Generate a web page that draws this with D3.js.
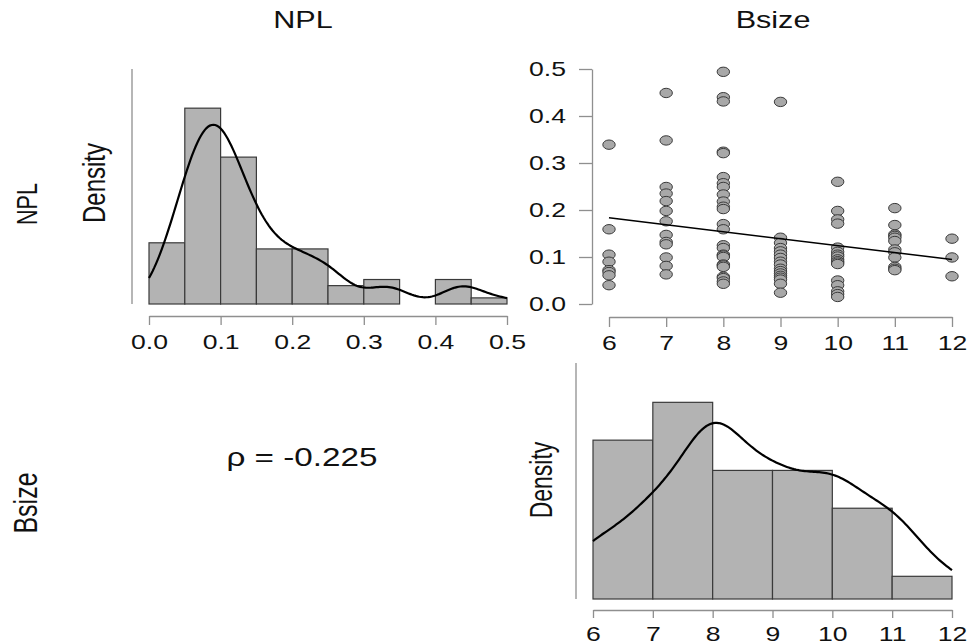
<!DOCTYPE html>
<html lang="en">
  <head>
    <meta charset="UTF-8" />
    <title>NPL vs Bsize</title>
    <script src="https://cdn.jsdelivr.net/npm/d3@7"></script>
    <style>
      body { margin: 0; background: #fff; }
      text { font-family: "Liberation Sans", Arial, sans-serif; fill: #111; }
    </style>
  </head>
  <body>
    <svg width="976" height="644"></svg>
  </body>

  <script>
    // NPL values, one array per board size
    var bsizeLevels = [6, 7, 8, 9, 10, 11, 12];
    var nplB6 = [0.339, 0.159, 0.105, 0.090, 0.072, 0.068, 0.061, 0.040];
    var nplB7 = [0.449, 0.348, 0.249, 0.235, 0.219, 0.198, 0.176, 0.147, 0.132, 0.127, 0.099, 0.081, 0.063];
    var nplB8 = [0.494, 0.440, 0.431, 0.324, 0.321, 0.270, 0.257, 0.249, 0.233, 0.218, 0.207, 0.202, 0.170,
                 0.159, 0.125, 0.119, 0.105, 0.103, 0.100, 0.084, 0.082, 0.079, 0.058, 0.055, 0.048, 0.043];
    var nplB9 = [0.430, 0.141, 0.130, 0.119, 0.112, 0.105, 0.098, 0.090, 0.084, 0.075, 0.070, 0.065, 0.060,
                 0.056, 0.052, 0.043, 0.024];
    var nplB10 = [0.260, 0.198, 0.180, 0.171, 0.120, 0.111, 0.105, 0.101, 0.095, 0.091, 0.088, 0.085, 0.050,
                  0.040, 0.027, 0.021, 0.015];
    var nplB11 = [0.204, 0.168, 0.148, 0.145, 0.141, 0.134, 0.116, 0.110, 0.099, 0.079, 0.075, 0.072];
    var nplB12 = [0.139, 0.099, 0.059];
    var nplGroups = [nplB6, nplB7, nplB8, nplB9, nplB10, nplB11, nplB12];

    var nplBreaks = [0, 0.05, 0.1, 0.15, 0.2, 0.25, 0.3, 0.35, 0.4, 0.45, 0.5];
    var bsizeBreaks = [6, 7, 8, 9, 10, 11, 12];
    var nplTicks = [0, 0.1, 0.2, 0.3, 0.4, 0.5];
    var bsizeTicks = [6, 7, 8, 9, 10, 11, 12];
    var rhoLabel = 'ρ = -0.225';

    // the picture is stretched sideways, so text is too
    var sx = 1.33;

    var points = [];
    nplGroups.forEach(function (arr, i) {
      arr.forEach(function (v) { points.push({ b: bsizeLevels[i], npl: v }); });
    });
    var npl = points.map(function (d) { return d.npl; });
    var bsize = points.map(function (d) { return d.b; });

    var svg = d3.select('svg');

    // R style histogram: right closed bins, lowest included
    function histR(values, breaks) {
      var n = values.length;
      var bins = [];
      for (var i = 0; i < breaks.length - 1; i++) {
        var lo = breaks[i], hi = breaks[i + 1];
        var c = values.filter(function (v) {
          return (v > lo + 1e-9 || (i === 0 && v >= lo - 1e-9)) && v <= hi + 1e-9;
        }).length;
        bins.push({ x0: lo, x1: hi, density: c / (n * (hi - lo)) });
      }
      return bins;
    }

    // gaussian kde with bw.nrd0
    function kde(values, xs) {
      var n = values.length;
      var s = d3.deviation(values);
      var sorted = values.slice().sort(d3.ascending);
      var iqr = d3.quantileSorted(sorted, 0.75) - d3.quantileSorted(sorted, 0.25);
      var bw = 0.9 * Math.min(s, iqr / 1.34) * Math.pow(n, -0.2);
      return xs.map(function (x) {
        var sum = d3.sum(values, function (v) {
          var z = (x - v) / bw;
          return Math.exp(-0.5 * z * z);
        });
        return [x, sum / (n * bw * Math.sqrt(2 * Math.PI))];
      });
    }

    function stretchText(sel) {
      sel.each(function () {
        var t = d3.select(this);
        var x = +t.attr('x') || 0;
        t.attr('transform', 'translate(' + x * (1 - sx) + ',0) scale(' + sx + ',1)');
      });
    }

    function styleAxis(g) {
      g.selectAll('path, line').attr('stroke', '#8f8f8f').attr('stroke-width', 1.3);
      g.selectAll('text').attr('font-size', 20).attr('fill', '#111')
        .style('font-family', '"Liberation Sans", Arial, sans-serif');
      stretchText(g.selectAll('text'));
    }

    function label(txt, x, y, size, rotated) {
      var g = svg.append('g')
        .attr('transform', 'translate(' + x + ',' + y + ') scale(' + sx + ',1)' + (rotated ? ' rotate(-90)' : ''));
      g.append('text').attr('text-anchor', 'middle').attr('font-size', size).text(txt);
    }

    function histPanel(values, breaks, ticks, box, fmt) {
      var bins = histR(values, breaks);
      var maxD = d3.max(bins, function (d) { return d.density; });
      var x = d3.scaleLinear().domain([breaks[0], breaks[breaks.length - 1]]).range([box.x0, box.x1]);
      var y = d3.scaleLinear().domain([0, maxD * 1.2]).range([box.bottom, box.top]);

      svg.append('line')
        .attr('x1', box.lineX).attr('x2', box.lineX)
        .attr('y1', y(maxD * 1.2)).attr('y2', y(0))
        .attr('stroke', '#8f8f8f').attr('stroke-width', 1.3);

      svg.append('g').selectAll('rect').data(bins).enter().append('rect')
        .attr('x', function (d) { return x(d.x0); })
        .attr('y', function (d) { return y(d.density); })
        .attr('width', function (d) { return x(d.x1) - x(d.x0); })
        .attr('height', function (d) { return y(0) - y(d.density); })
        .attr('fill', '#b3b3b3')
        .attr('stroke', '#3a3a3a')
        .attr('stroke-width', 1.2);

      var xs = d3.range(0, 201).map(function (i) { return x.domain()[0] + i * (x.domain()[1] - x.domain()[0]) / 200; });
      var curve = kde(values, xs);
      svg.append('path')
        .datum(curve)
        .attr('fill', 'none')
        .attr('stroke', '#000')
        .attr('stroke-width', 2.2)
        .attr('d', d3.line().x(function (d) { return x(d[0]); }).y(function (d) { return y(d[1]); }));

      var ax = svg.append('g')
        .attr('transform', 'translate(0,' + box.axisY + ')')
        .call(d3.axisBottom(x).tickValues(ticks).tickFormat(fmt).tickSize(box.tick).tickSizeOuter(0).tickPadding(box.pad));
      styleAxis(ax);
    }

    // NPL histogram (top left)
    histPanel(npl, nplBreaks, nplTicks,
      { x0: 149, x1: 507, bottom: 304, top: 69, lineX: 132, axisY: 316, tick: 9, pad: 10 }, d3.format('.1f'));

    // Bsize histogram (bottom right)
    histPanel(bsize, bsizeBreaks, bsizeTicks,
      { x0: 593, x1: 952, bottom: 599, top: 363, lineX: 576, axisY: 610, tick: 8, pad: 9 }, d3.format('d'));

    // scatter NPL vs Bsize (top right)
    var xS = d3.scaleLinear().domain([6, 12]).range([609, 952]);
    var yS = d3.scaleLinear().domain([0, 0.5]).range([304, 69]);

    svg.append('g').selectAll('ellipse').data(points).enter().append('ellipse')
      .attr('cx', function (d) { return xS(d.b); })
      .attr('cy', function (d) { return yS(d.npl); })
      .attr('rx', 6.2)
      .attr('ry', 4.7)
      .attr('fill', '#a8a8a8')
      .attr('stroke', '#3a3a3a')
      .attr('stroke-width', 1);

    // least squares fit
    var mx = d3.mean(bsize), my = d3.mean(npl);
    var sxy = d3.sum(points, function (d) { return (d.b - mx) * (d.npl - my); });
    var sxx = d3.sum(points, function (d) { return (d.b - mx) * (d.b - mx); });
    var slope = sxy / sxx, icpt = my - slope * mx;
    var fit = [6, 12].map(function (b) { return [b, icpt + slope * b]; });
    svg.append('path')
      .datum(fit)
      .attr('fill', 'none')
      .attr('stroke', '#000')
      .attr('stroke-width', 1.5)
      .attr('d', d3.line().x(function (d) { return xS(d[0]); }).y(function (d) { return yS(d[1]); }));

    var axL = svg.append('g')
      .attr('transform', 'translate(592,0)')
      .call(d3.axisLeft(yS).tickValues([0, 0.1, 0.2, 0.3, 0.4, 0.5]).tickFormat(d3.format('.1f'))
        .tickSize(13).tickSizeOuter(0).tickPadding(13));
    styleAxis(axL);

    var axB = svg.append('g')
      .attr('transform', 'translate(0,317)')
      .call(d3.axisBottom(xS).tickValues(bsizeTicks).tickFormat(d3.format('d'))
        .tickSize(10).tickSizeOuter(0).tickPadding(9));
    styleAxis(axB);

    // titles and labels
    label('NPL', 303, 28, 23, false);
    label('Bsize', 773, 28, 23, false);
    label('NPL', 37, 204, 21.5, true);
    label('Density', 105, 183, 24, true);
    label('Bsize', 37, 503, 25, true);
    label('Density', 552, 480, 23, true);
    label(rhoLabel, 302, 466, 25, false);
  </script>
</html>
